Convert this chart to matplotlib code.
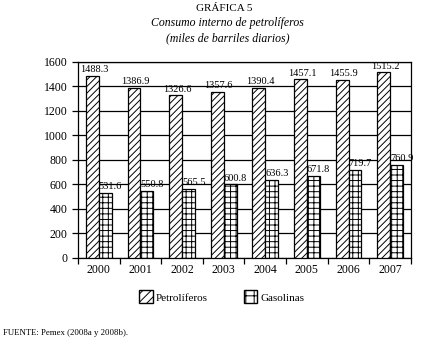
import numpy as np
import matplotlib.pyplot as plt
import matplotlib.patches as mpatches

plt.rcParams['font.family'] = ['Liberation Serif', 'DejaVu Serif']
plt.rcParams['hatch.linewidth'] = 0.7

years = ['2000', '2001', '2002', '2003', '2004', '2005', '2006', '2007']
petroliferos = [1488.3, 1386.9, 1326.6, 1357.6, 1390.4, 1457.1, 1455.9, 1515.2]
gasolinas = [531.6, 550.8, 565.5, 600.8, 636.3, 671.8, 719.7, 760.9]

fig = plt.figure(figsize=(4.25, 3.44), dpi=100)
ax = fig.add_axes([0.1835, 0.25, 0.7835, 0.5698])

x = np.arange(len(years))
w = 0.31
b1 = ax.bar(x - w / 2, petroliferos, w, color='white', edgecolor='black',
            hatch='/////', linewidth=0.9, zorder=3)
b2 = ax.bar(x + w / 2, gasolinas, w, color='white', edgecolor='black',
            hatch='+++', linewidth=0.9, zorder=3)

# etiquetas de valor
for xi, v in zip(x, petroliferos):
    ax.text(xi - w / 2 + 0.04, v + 15, f'{v:.1f}', ha='center', va='bottom', fontsize=7.5, zorder=4)
for xi, v in zip(x, gasolinas):
    ax.text(xi, v + 15, f'{v:.1f}', ha='left', va='bottom', fontsize=7.5, zorder=4,
            clip_on=False)

ax.set_xlim(-0.5, len(years) - 0.5)
ax.set_ylim(0, 1600)
ax.set_yticks(np.arange(0, 1601, 200))
ax.yaxis.grid(True, color='black', linewidth=0.9, zorder=0)
ax.set_xticks(x)
ax.set_xticklabels(years)
ax.set_xticks(np.arange(-0.5, len(years)), minor=True)
ax.tick_params(axis='x', which='major', length=0, labelsize=8.5, pad=4)
ax.tick_params(axis='x', which='minor', length=4, width=0.9, direction='out')
ax.tick_params(axis='y', length=4, width=0.9, labelsize=8.5)
for s in ax.spines.values():
    s.set_linewidth(0.9)

h1 = mpatches.Patch(facecolor='white', edgecolor='black', hatch='////', label='Petrolíferos')
h2 = mpatches.Patch(facecolor='white', edgecolor='black', hatch='++', label='Gasolinas')
fig.legend(handles=[h1, h2], loc='center', bbox_to_anchor=(0.522, 0.137), ncol=2,
           frameon=False, fontsize=8, handlelength=1.2, handleheight=1.4,
           columnspacing=3.2, handletextpad=0.3)

fig.text(0.527, 0.975, 'GRÁFICA 5', ha='center', va='center', fontsize=8)
fig.text(0.535, 0.932, 'Consumo interno de petrolíferos', ha='center', va='center',
         fontsize=8.5, style='italic')
fig.text(0.535, 0.888, '(miles de barriles diarios)', ha='center', va='center',
         fontsize=8.5, style='italic')
fig.text(0.008, 0.032, 'FUENTE: Pemex (2008a y 2008b).', ha='left', va='center', fontsize=6.3)

fig.savefig('out.png', dpi=100)
